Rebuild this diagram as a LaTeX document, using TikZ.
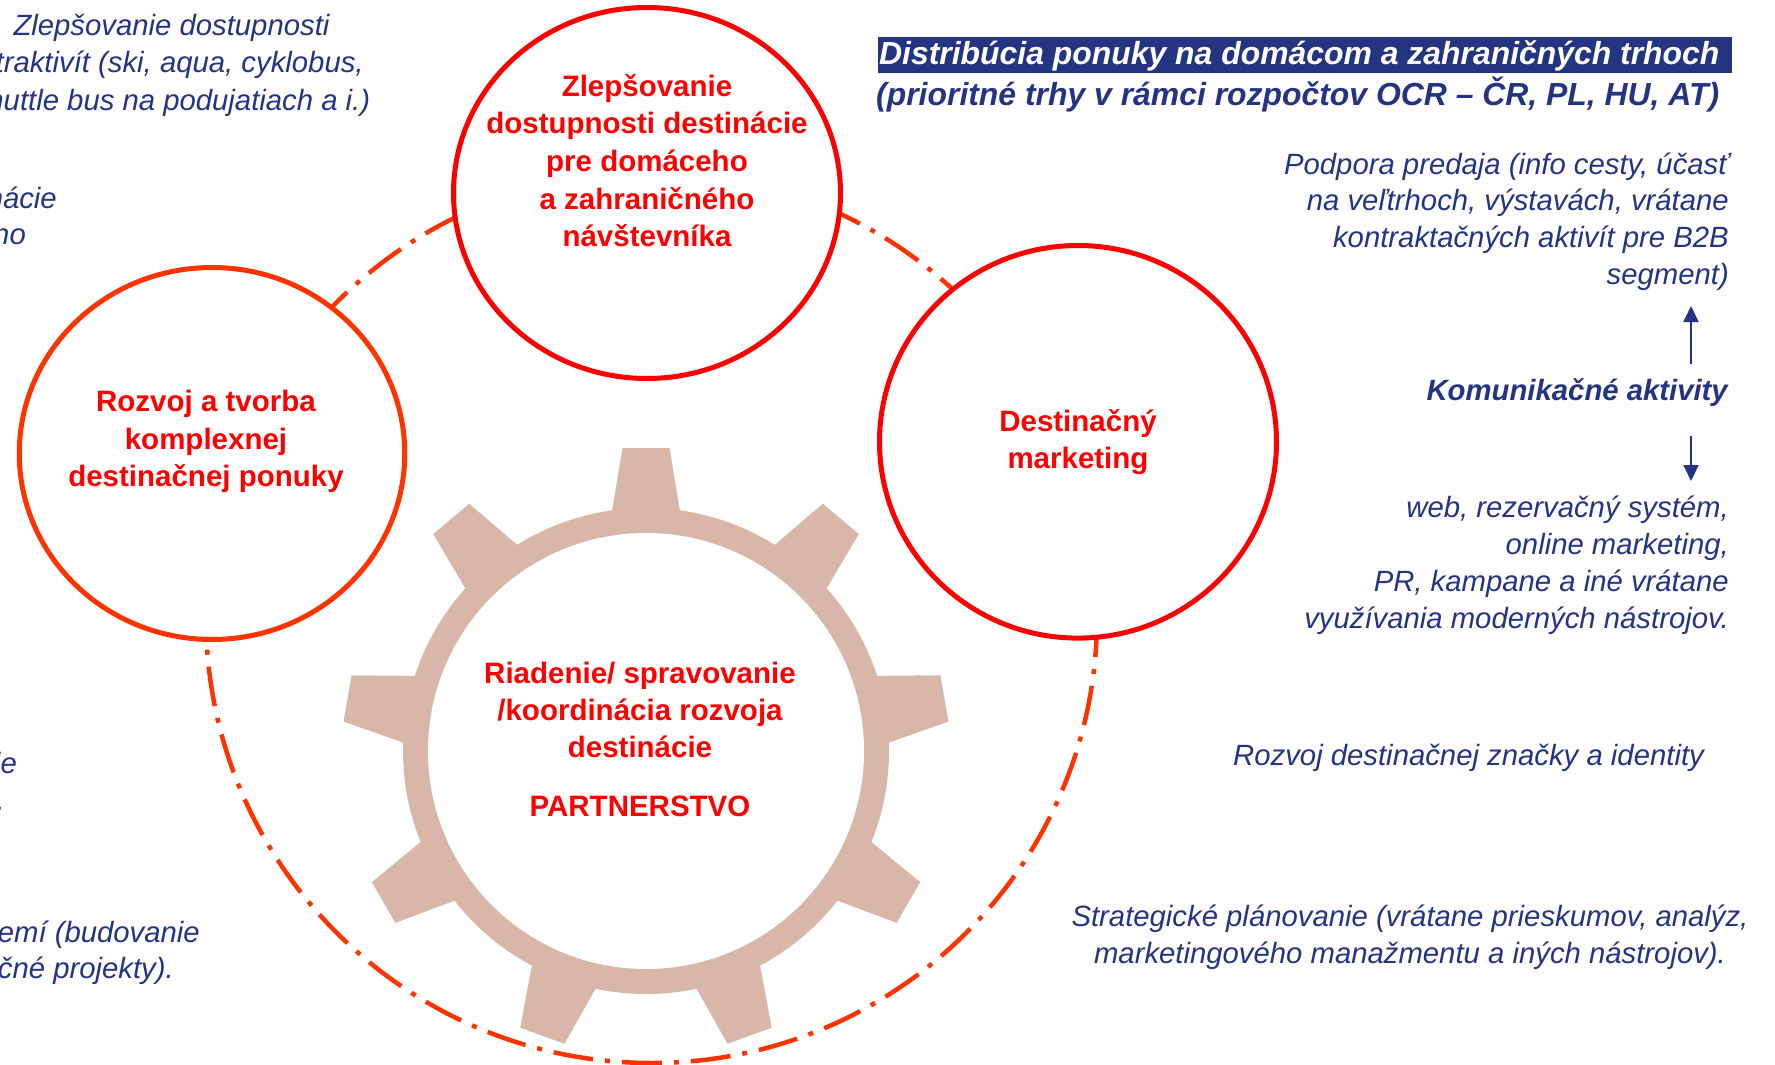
\documentclass[tikz,border=0pt]{standalone}
\usepackage{fontspec}
\setmainfont{Liberation Sans}
\usetikzlibrary{arrows.meta}
\definecolor{navy}{RGB}{36,52,130}
\definecolor{hdbox}{RGB}{35,53,128}
\definecolor{pured}{RGB}{255,0,0}
\definecolor{orred}{RGB}{255,51,0}
\definecolor{gearc}{RGB}{216,183,169}
\begin{document}
\begin{tikzpicture}[x=1pt,y=-1pt,
  bluetxt/.style={text=navy,inner sep=0pt,font=\fontsize{29.3}{#1}\selectfont\itshape},
  bluetxt/.default=36.8,
  redtxt/.style={text=pured,inner sep=0pt,align=center,font=\fontsize{29.5}{#1}\selectfont\bfseries},
  redtxt/.default=37.5,
  ringline/.style={draw=orred,line width=4.5pt,dash pattern=on 40pt off 12pt on 5pt off 12pt},
  circbox/.style={draw=#1,line width=5pt,fill=white},
  arr/.style={draw=navy,line width=2pt,-{Triangle[length=16pt,width=15pt]}}]
\useasboundingbox (0,0) rectangle (1775,1065);
\clip (0,0) rectangle (1775,1065);
\fill[white] (0,0) rectangle (1775,1065);

% dash-dot ring
\draw[ringline] (651.5,617.5) circle[radius=445.5pt];

% gear
\coordinate (g) at (646,751);
\fill[gearc] (g) circle[radius=243pt];
\foreach \a in {90,50,10,-30,-70,-110,-150,170,130}{
  \fill[gearc,shift={(g)},rotate=\a] (235,-34.8) -- (303,-23.5) -- (303,23.5) -- (235,34.8) -- cycle;
}
\fill[white] (g) circle[radius=218pt];

% circles
\draw[circbox=pured] (647,193) ellipse[x radius=193.5pt, y radius=185.5pt];
\draw[circbox=orred] (212,453.5) ellipse[x radius=192.75pt, y radius=186pt];
\draw[circbox=pured] (1078,441.8) ellipse[x radius=198.5pt, y radius=196.3pt];

% circle texts
\node[redtxt=37.7,anchor=north] (c1t) at (647,69.6) {\strut Zlepšovanie\\\strut dostupnosti destinácie\\\strut pre domáceho\\\strut a zahraničného\\\strut návštevníka};
\node[redtxt=37.5,anchor=north] (c2t) at (206,385.5) {\strut Rozvoj a tvorba\\\strut komplexnej\\\strut destinačnej ponuky};
\node[redtxt=37,anchor=north] (c3t) at (1078,405.8) {\strut Destinačný\\\strut marketing};
\node[redtxt=37.2,anchor=north] (gt) at (640,657) {\strut Riadenie/ spravovanie\\\strut /koordinácia rozvoja\\\strut destinácie};
\node[redtxt,anchor=base] (gp) at (640,816.6) {PARTNERSTVO};

% heading
\fill[hdbox] (878,36.7) rectangle (1732,73.3);
\node[anchor=base west,inner sep=0pt,text=white,font=\fontsize{31.9}{38}\selectfont\bfseries\itshape] (hd1) at (879,65) {Distribúcia ponuky na domácom a zahraničných trhoch};
\node[anchor=base west,inner sep=0pt,text=navy,font=\fontsize{31.9}{38}\selectfont\bfseries\itshape] (hd2) at (876,105) {(prioritné trhy v rámci rozpočtov OCR – ČR, PL, HU, AT)};

% right texts
\node[bluetxt=36.6,align=right,anchor=north east] (pod) at (1729,148.4) {\strut Podpora predaja (info cesty, účasť\\\strut na veľtrhoch, výstavách, vrátane\\\strut kontraktačných aktivít pre B2B\\\strut segment)};
\node[anchor=base east,inner sep=0pt,text=navy,font=\fontsize{29.3}{36}\selectfont\bfseries\itshape] (kom) at (1728,400) {Komunikačné aktivity};
\node[bluetxt=36.8,align=right,anchor=north east] (web) at (1729,491.8) {\strut web, rezervačný systém,\\\strut online marketing,\\\strut PR, kampane a iné vrátane\\\strut využívania moderných nástrojov.};
\node[bluetxt,anchor=base west] (rdz) at (1233,765) {Rozvoj destinačnej značky a identity};
\node[bluetxt=37,align=center,anchor=north] (str) at (1410,900.1) {\strut Strategické plánovanie (vrátane prieskumov, analýz,\\\strut marketingového manažmentu a iných nástrojov).};

% arrows
\coordinate (u1) at (1691,364);
\coordinate (u2) at (1691,306);
\coordinate (d1) at (1691,436);
\coordinate (d2) at (1691,481);
\draw[arr] (u1) -- (u2);
\draw[arr] (d1) -- (d2);

% left texts (cut by the edge)
\node[bluetxt=37.5,align=center,anchor=north] (tl) at (171.5,8.75) {\strut Zlepšovanie dostupnosti\\\strut atraktivít (ski, aqua, cyklobus,\\\strut shuttle bus na podujatiach a i.)};
\node[bluetxt,anchor=base east] (p1) at (57,208) {nácie};
\node[bluetxt,anchor=base east] (p2) at (26,244) {ho};
\node[bluetxt,anchor=base east] (p3) at (17,773) {ie};
\node[bluetxt,anchor=base east] (p4) at (5,810) {.};
\node[bluetxt,anchor=base east] (p5) at (200,942) {emí (budovanie};
\node[bluetxt,anchor=base east] (p6) at (174,978) {čné projekty).};
\end{tikzpicture}
\end{document}
